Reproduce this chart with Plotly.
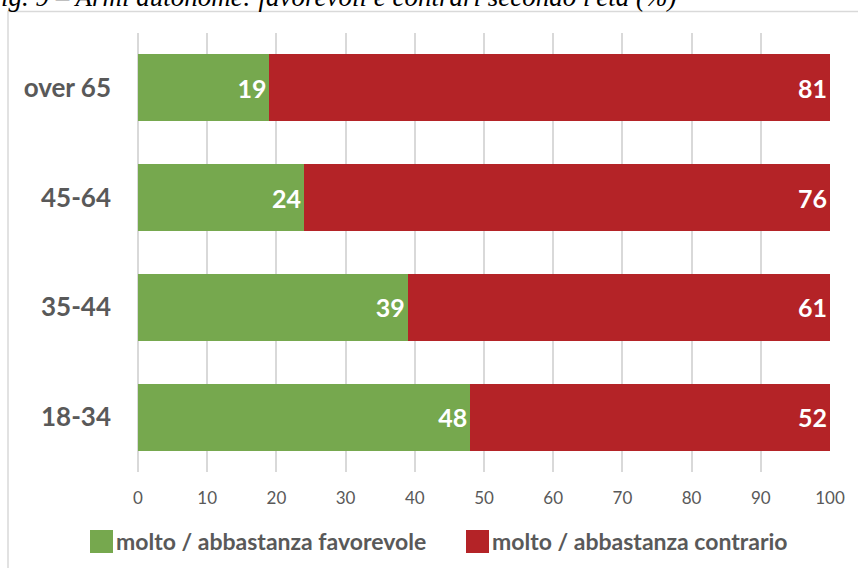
import plotly.graph_objects as go

# Age groups (top to bottom) and shares in percent
age_groups = ["over 65", "45-64", "35-44", "18-34"]
favorevole = [19, 24, 39, 48]
contrario = [81, 76, 61, 52]
series_names = ["molto / abbastanza favorevole", "molto / abbastanza contrario"]
x_ticks = [0, 10, 20, 30, 40, 50, 60, 70, 80, 90, 100]

GREEN = "#76A84E"
RED = "#B42327"
GRAY_TEXT = "#595959"
GRID = "#D9D9D9"
FONT = "Lato"

W, H = 858, 568
L, R, T, B = 138, 28, 33, 96
pw, ph = W - L - R, H - T - B


def px_x(px):
    return (px - L) / pw


def px_y(py):
    return (H - B - py) / ph


fig = go.Figure()
for vals, name, col in [(favorevole, series_names[0], GREEN),
                        (contrario, series_names[1], RED)]:
    fig.add_trace(go.Bar(
        y=age_groups, x=vals, name=name, orientation="h",
        marker=dict(color=col, line=dict(width=0)),
        text=[str(v) for v in vals], textposition="inside",
        insidetextanchor="end", constraintext="none",
        textfont=dict(family=FONT, size=25, color="white", weight="bold"),
        showlegend=False, width=0.61,
    ))

# Outer chart frame
fig.add_shape(type="rect", xref="paper", yref="paper",
              x0=px_x(8), x1=px_x(870), y0=px_y(580), y1=px_y(11.5),
              line=dict(color=GRID, width=1.5), fillcolor="rgba(0,0,0,0)",
              layer="below")

# Legend drawn with squares and labels
legend_items = [(90, 114, series_names[0], GREEN), (466, 490, series_names[1], RED)]
for sx, tx, name, col in legend_items:
    fig.add_shape(type="rect", xref="paper", yref="paper",
                  x0=px_x(sx), x1=px_x(sx + 23), y0=px_y(553), y1=px_y(530),
                  line=dict(width=0), fillcolor=col)
    fig.add_annotation(text=name, xref="paper", yref="paper",
                       x=px_x(tx), y=px_y(541), xanchor="left", yanchor="middle",
                       showarrow=False,
                       font=dict(family=FONT, size=23, color=GRAY_TEXT, weight="bold"))

# Figure caption at the very top
fig.add_annotation(text="ig. 9 – Armi autonome: favorevoli e contrari secondo l'età (%)",
                   xref="paper", yref="paper", x=px_x(-1), y=px_y(14),
                   xanchor="left", yanchor="bottom", showarrow=False,
                   font=dict(family="Liberation Serif", size=27, color="black",
                             style="italic"))

fig.update_layout(
    width=W, height=H, barmode="stack", bargap=0.39,
    margin=dict(l=L, r=R, t=T, b=B),
    paper_bgcolor="white", plot_bgcolor="white",
    xaxis=dict(range=[0, 100], tickvals=x_ticks, showgrid=True, gridcolor=GRID,
               gridwidth=2, zeroline=True, zerolinecolor=GRID, zerolinewidth=2,
               showline=False, ticks="", ticklabelstandoff=14,
               tickfont=dict(family=FONT, size=17, color=GRAY_TEXT)),
    yaxis=dict(range=[3.5, -0.5], type="category", showgrid=False,
               showline=False, ticks="", ticklabelstandoff=26,
               tickfont=dict(family=FONT, size=26, color=GRAY_TEXT, weight="bold")),
)

fig.write_html("out.html")
